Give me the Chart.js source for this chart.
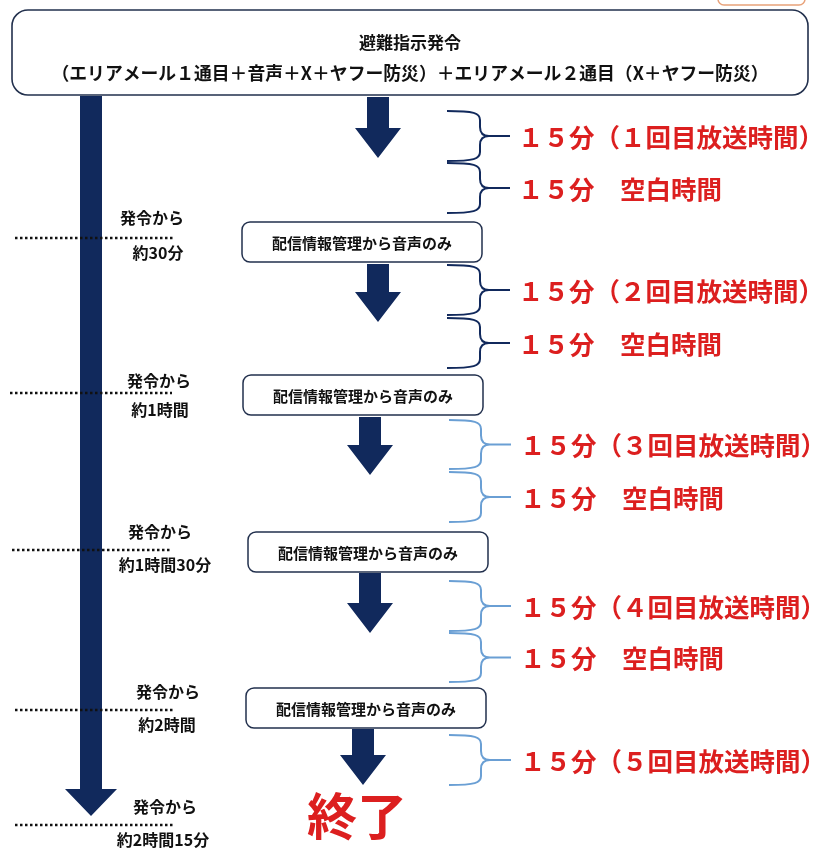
<!DOCTYPE html>
<html lang="ja">
<head>
<meta charset="utf-8">
<title>避難指示発令 放送の流れ</title>
<script src="https://cdn.jsdelivr.net/npm/chart.js@4.4.1/dist/chart.umd.min.js"></script>
<style>
  html, body { margin: 0; padding: 0; background: #ffffff; }
  #wrap { width: 828px; height: 850px; position: relative; }
</style>
</head>
<body>
<div id="wrap"><canvas id="flowChart"></canvas></div>
<script>
// 表示するテキスト（データ）
const headerLines = ['避難指示発令', '（エリアメール１通目＋音声＋X＋ヤフー防災）＋エリアメール２通目（X＋ヤフー防災）'];
const relayLabel = '配信情報管理から音声のみ';
const elapsedPrefix = '発令から';
const elapsedLabels = ['約30分', '約1時間', '約1時間30分', '約2時間', '約2時間15分'];
const slotLabels = [
    '１５分（１回目放送時間）', '１５分　空白時間',
    '１５分（２回目放送時間）', '１５分　空白時間',
    '１５分（３回目放送時間）', '１５分　空白時間',
    '１５分（４回目放送時間）', '１５分　空白時間',
    '１５分（５回目放送時間）'
];
const endLabel = '終了';

// レイアウト（座標は軸の単位）
const markerY = [238, 393, 550, 710, 825];
const markerX = [[15, 175], [10, 172], [12, 172], [15, 175], [15, 175]];
const prefixPos = [[152, 218], [159, 381], [160, 532], [168, 692], [165, 807]];
const elapsedPos = [[158, 253], [160, 410], [165, 565], [167, 725], [163, 840]];
const relayBoxes = [[242, 222, 482, 262], [243, 375, 483, 415], [248, 532, 488, 572], [246, 688, 486, 728]];
const arrows = [[378, 97, 158], [378, 264, 322], [370, 417, 475], [370, 573, 633], [363, 729, 785]];
const slotRanges = [[111, 161], [163, 213], [265, 315], [318, 368], [420, 469], [472, 522], [581, 631], [633, 682], [735, 785]];
const slotX = [[447, 480, 510, 518], [449, 481, 511, 520]];

const navy = '#11295c';
const boxLine = '#22304d';
const red = '#dc1f1f';
const lightBlue = '#6a9fd4';
const jp = '"Noto Sans CJK JP", "Noto Sans", sans-serif';

function roundBox(ctx, x0, y0, x1, y1, r) {
    ctx.beginPath();
    ctx.roundRect(x0, y0, x1 - x0, y1 - y0, r);
    ctx.fillStyle = '#ffffff';
    ctx.fill();
    ctx.stroke();
}

function downArrow(ctx, cx, top, tip, shaftW, headW, headH) {
    ctx.beginPath();
    ctx.moveTo(cx - shaftW / 2, top);
    ctx.lineTo(cx + shaftW / 2, top);
    ctx.lineTo(cx + shaftW / 2, tip - headH);
    ctx.lineTo(cx + headW / 2, tip - headH);
    ctx.lineTo(cx, tip);
    ctx.lineTo(cx - headW / 2, tip - headH);
    ctx.lineTo(cx - shaftW / 2, tip - headH);
    ctx.closePath();
    ctx.fill();
}

function brace(ctx, x0, xv, xt, top, bot) {
    const mid = (top + bot) / 2;
    const r = 9;
    ctx.beginPath();
    ctx.moveTo(x0, top);
    ctx.bezierCurveTo(xv - 6, top, xv, top + 2, xv, top + r);
    ctx.lineTo(xv, mid - r);
    ctx.quadraticCurveTo(xv, mid, xv + r, mid);
    ctx.lineTo(xt, mid);
    ctx.moveTo(xv + r, mid);
    ctx.quadraticCurveTo(xv, mid, xv, mid + r);
    ctx.lineTo(xv, bot - r);
    ctx.bezierCurveTo(xv, bot - 2, xv - 6, bot, x0, bot);
    ctx.stroke();
}

const flowPlugin = {
    id: 'flowPlugin',
    beforeDatasetsDraw(chart) {
        const ctx = chart.ctx;
        const sx = chart.scales.x;
        const sy = chart.scales.y;
        const X = v => sx.getPixelForValue(v);
        const Y = v => sy.getPixelForValue(v);
        ctx.save();

        // 右上の枠（一部のみ見える）
        ctx.strokeStyle = '#e8a27a';
        ctx.lineWidth = 1.5;
        ctx.beginPath();
        ctx.roundRect(X(718), Y(-20), X(805) - X(718), Y(5) - Y(-20), 6);
        ctx.stroke();

        // 左側の長い矢印
        ctx.fillStyle = navy;
        downArrow(ctx, X(91), Y(96), Y(816), 22, 52, 27);
        ctx.restore();
    },
    afterDatasetsDraw(chart) {
        const ctx = chart.ctx;
        const sx = chart.scales.x;
        const sy = chart.scales.y;
        const X = v => sx.getPixelForValue(v);
        const Y = v => sy.getPixelForValue(v);
        ctx.save();

        // 見出しの枠
        ctx.strokeStyle = boxLine;
        ctx.lineWidth = 1.6;
        roundBox(ctx, X(12), Y(10), X(808), Y(95), 16);
        ctx.fillStyle = '#111111';
        ctx.textAlign = 'center';
        ctx.textBaseline = 'middle';
        ctx.font = 'bold 17px ' + jp;
        ctx.fillText(headerLines[0], X(410), Y(43));
        ctx.font = 'bold 18px ' + jp;
        ctx.fillText(headerLines[1], X(410), Y(73), X(752) - X(35));

        // 中央の矢印
        ctx.fillStyle = navy;
        arrows.forEach(a => downArrow(ctx, X(a[0]), Y(a[1]), Y(a[2]), 22, 46, 30));

        // 配信情報管理の枠
        relayBoxes.forEach(b => {
            ctx.strokeStyle = boxLine;
            ctx.lineWidth = 1.5;
            roundBox(ctx, X(b[0]), Y(b[1]), X(b[2]), Y(b[3]), 8);
            ctx.fillStyle = '#111111';
            ctx.font = 'bold 15px ' + jp;
            ctx.fillText(relayLabel, X((b[0] + b[2]) / 2), Y((b[1] + b[3]) / 2 + 1));
        });

        // 経過時間ラベル
        ctx.font = 'bold 16px ' + jp;
        ctx.fillStyle = '#111111';
        elapsedLabels.forEach((lbl, i) => {
            ctx.fillText(elapsedPrefix, X(prefixPos[i][0]), Y(prefixPos[i][1]));
            ctx.fillText(lbl, X(elapsedPos[i][0]), Y(elapsedPos[i][1]));
        });

        // 括弧と放送時間ラベル
        slotLabels.forEach((lbl, i) => {
            const r = slotRanges[i];
            const sxs = slotX[i < 4 ? 0 : 1];
            ctx.strokeStyle = i < 4 ? navy : lightBlue;
            ctx.lineWidth = 2;
            brace(ctx, X(sxs[0]), X(sxs[1]), X(sxs[2]), Y(r[0]), Y(r[1]));
            ctx.fillStyle = red;
            ctx.textAlign = 'left';
            ctx.font = 'bold 25.5px ' + jp;
            ctx.fillText(lbl, X(sxs[3]), Y((r[0] + r[1]) / 2 + 1));
        });

        // 終了
        ctx.textAlign = 'center';
        ctx.fillStyle = red;
        ctx.font = 'bold 50px ' + jp;
        ctx.fillText(endLabel, X(357), Y(816));
        ctx.restore();
    }
};

// 点線（経過時間の目印）
const markerDatasets = markerY.map((y, i) => ({
    data: [{ x: markerX[i][0], y: y }, { x: markerX[i][1], y: y }],
    showLine: true,
    borderColor: '#111111',
    borderWidth: 2.5,
    borderDash: [2.5, 2.5],
    pointRadius: 0,
    fill: false
}));

document.addEventListener('DOMContentLoaded', function() {
    const ctx = document.getElementById('flowChart').getContext('2d');
    new Chart(ctx, {
        type: 'scatter',
        data: { datasets: markerDatasets },
        options: {
            responsive: true,
            maintainAspectRatio: false,
            animation: false,
            layout: { padding: 0 },
            scales: {
                x: { type: 'linear', min: 0, max: 828, display: false },
                y: { type: 'linear', min: 0, max: 850, reverse: true, display: false }
            },
            plugins: {
                legend: { display: false },
                tooltip: { enabled: false }
            }
        },
        plugins: [flowPlugin]
    });
});
</script>
</body>
</html>
